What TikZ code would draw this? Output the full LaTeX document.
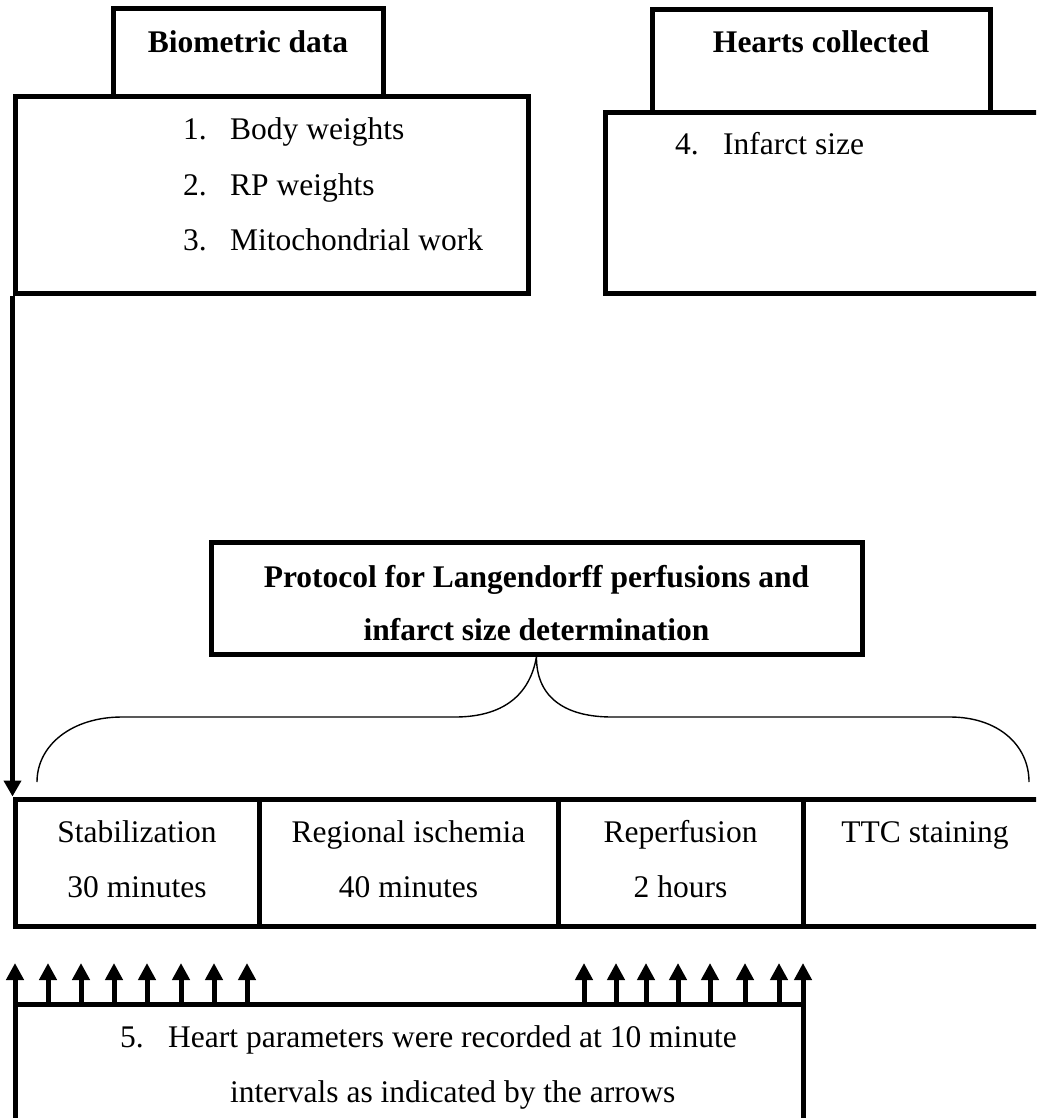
\documentclass[tikz,border=0pt]{standalone}
\usepackage{fontspec}
\setmainfont{Liberation Serif}
\usetikzlibrary{arrows.meta}
\newcommand\fsz{\fontsize{31.5pt}{38pt}\selectfont}
\tikzset{
  box/.style={draw, line width=5pt, inner sep=0pt, fill=none},
  txt/.style={font=\fsz, inner sep=0pt},
  btxt/.style={font=\fsz\bfseries, inner sep=0pt},
  uparrow/.style={line width=5pt, -{Triangle[width=17pt,length=17pt]}},
  bracepath/.style={line width=1.4pt},
}
\begin{document}
\begin{tikzpicture}[x=1pt,y=-1pt]
\path[use as bounding box] (0,0) rectangle (1036,1118);
\clip (0,0) rectangle (1036,1118);

% Biometric data
\node[box, minimum width=270pt, minimum height=88pt] (bioHead) at (248,53) {};
\node[box, minimum width=513pt, minimum height=196pt] (bioMain) at (271.5,195) {};
\node[btxt, anchor=base] (bioTitle) at (248,53) {Biometric data};
\node[txt, anchor=base west] (n1) at (183,140) {1.};
\node[txt, anchor=base west] (i1) at (230,140) {Body weights};
\node[txt, anchor=base west] (n2) at (183,195) {2.};
\node[txt, anchor=base west] (i2) at (230,195) {RP weights};
\node[txt, anchor=base west] (n3) at (183,250) {3.};
\node[txt, anchor=base west] (i3) at (230,250) {Mitochondrial work};

% Hearts collected
\node[box, minimum width=338pt, minimum height=103pt] (heartHead) at (821,61.5) {};
\node[box, minimum width=445pt, minimum height=180pt] (heartMain) at (827.5,203) {};
\node[btxt, anchor=base] (heartTitle) at (821,53) {Hearts collected};
\node[txt, anchor=base west] (n4) at (675,155) {4.};
\node[txt, anchor=base west] (i4) at (723,155) {Infarct size};

% Protocol
\node[box, minimum width=651pt, minimum height=112pt] (proto) at (536.5,598) {};
\node[btxt, anchor=base] (protoL1) at (536.5,587) {Protocol for Langendorff perfusions and};
\node[btxt, anchor=base] (protoL2) at (536.5,640) {infarct size determination};

% Stage boxes
\node[box, minimum width=244pt, minimum height=127pt] (stab) at (137,862.5) {};
\node[box, minimum width=299pt, minimum height=127pt] (isch) at (408.5,862.5) {};
\node[box, minimum width=245pt, minimum height=127pt] (rep) at (680.5,862.5) {};
\node[box, minimum width=244pt, minimum height=127pt] (ttc) at (925,862.5) {};
\node[txt, anchor=base] (stabT) at (137,842) {Stabilization};
\node[txt, anchor=base] (stabD) at (137,897) {30 minutes};
\node[txt, anchor=base] (ischT) at (408.5,842) {Regional ischemia};
\node[txt, anchor=base] (ischD) at (408.5,897) {40 minutes};
\node[txt, anchor=base] (repT) at (680.5,842) {Reperfusion};
\node[txt, anchor=base] (repD) at (680.5,897) {2 hours};
\node[txt, anchor=base] (ttcT) at (925,842) {TTC staining};

% Brace
\coordinate (brL) at (37,782);
\coordinate (brR) at (1029,782);
\draw[bracepath] (brL) .. controls (37,745) and (72,717) .. (122,717)
  -- (455,717) .. controls (503,717) and (530,695) .. (proto.south);
\draw[bracepath] (proto.south) .. controls (536,695) and (562,717) .. (612,717)
  -- (950,717) .. controls (998,717) and (1029,745) .. (brR);

% Left connector
\draw[line width=5pt, -{Triangle[width=17pt,length=16pt]}] (bioMain.south west) -- (stab.north west);

% Bottom box
\node[box, minimum width=788pt, minimum height=121pt] (bot) at (409,1064.5) {};
\node[txt, anchor=base west] (n5) at (120,1047) {5.};
\node[txt, anchor=base west] (botL1) at (168,1047) {Heart parameters were recorded at 10 minute};
\node[txt, anchor=base west] (botL2) at (230,1102) {intervals as indicated by the arrows};

% Recording arrows
\foreach \x [count=\i] in {15,48,81,114,147,181,214,247,584,616,646,678,710,745,779,803} {
  \coordinate (a\i) at (\x,963);
  \draw[uparrow] (bot.north -| a\i) -- (a\i);
}
\end{tikzpicture}
\end{document}
